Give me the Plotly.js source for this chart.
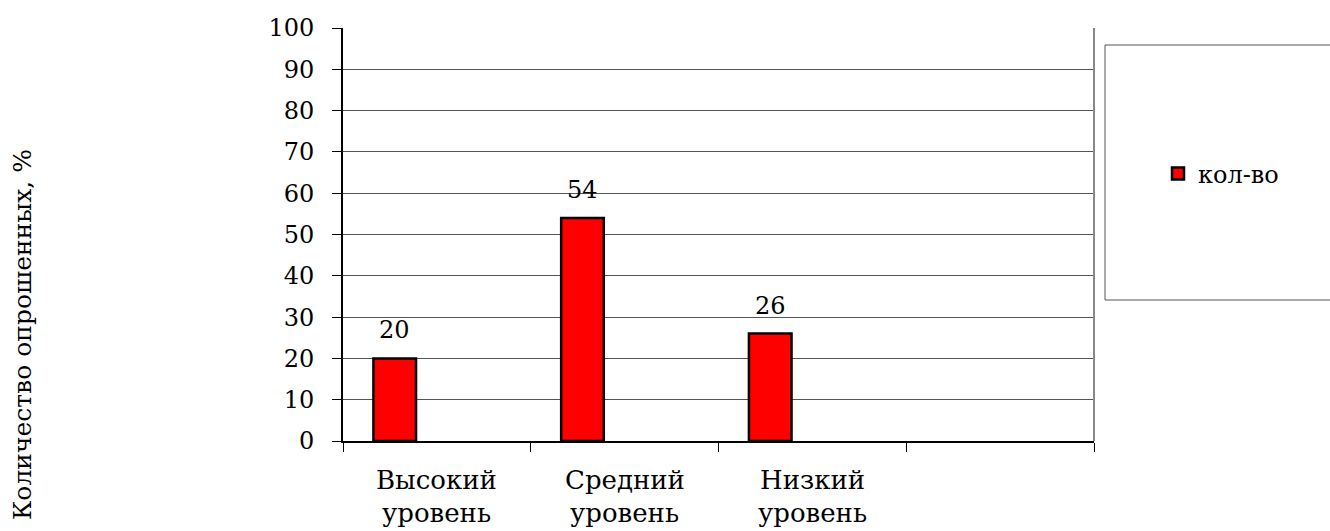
<!DOCTYPE html>
<html>
<head>
<meta charset="utf-8">
<script src="https://cdn.plot.ly/plotly-3.0.1.min.js"></script>
<style>
  html, body { margin: 0; padding: 0; background: #fff; }
  #chart { width: 1330px; height: 531px; }
</style>
</head>
<body>
<div id="chart"></div>
<script>
// Survey levels and share of respondents, %
const levelNames = ['Высокий', 'Средний', 'Низкий', ''];
const levelSuffix = ['уровень', 'уровень', 'уровень', ''];
const values = [20, 54, 26, null];
const seriesName = 'кол-во';
const yTickValues = [0, 10, 20, 30, 40, 50, 60, 70, 80, 90, 100];
const yTitle = 'Количество опрошенных, %';

const categories = levelNames.map((n, i) => (n + ' ' + levelSuffix[i]).trim() || ' ');

const FONT = 'DejaVu Serif';

// bar sits in the left part of each category slot
const barWidth = 0.227;
const barOffset = -0.338;

const trace = {
  type: 'bar',
  x: categories,
  y: values,
  name: seriesName,
  width: barWidth,
  offset: barOffset,
  marker: { color: '#ff0000', line: { color: '#000000', width: 2.5 } },
  showlegend: true,
  hoverinfo: 'x+y'
};

const annotations = [];

// value labels above each bar
values.forEach((v, i) => {
  if (v === null) return;
  annotations.push({
    x: i + barOffset + barWidth / 2,
    y: v,
    xref: 'x', yref: 'y',
    text: String(v),
    showarrow: false,
    yanchor: 'bottom',
    yshift: 12,
    font: { family: FONT, size: 24, color: '#000' }
  });
});

// two-line category captions under the axis (wider line spacing than tick labels allow)
categories.forEach((c, i) => {
  [levelNames[i], levelSuffix[i]].forEach((line, k) => {
    if (!line) return;
    annotations.push({
      x: c, y: 0,
      xref: 'x', yref: 'paper',
      text: line,
      showarrow: false,
      xanchor: 'center', yanchor: 'middle',
      yshift: k === 0 ? -39 : -72,
      font: { family: FONT, size: 26, color: '#000' }
    });
  });
});

// rotated axis caption at the far left
annotations.push({
  xref: 'paper', yref: 'paper',
  x: (22 - 343) / 751, y: (441 - 335) / 413,
  text: yTitle,
  textangle: -90,
  showarrow: false,
  xanchor: 'center', yanchor: 'middle',
  font: { family: FONT, size: 25, color: '#000' }
});

const layout = {
  width: 1330,
  height: 531,
  margin: { l: 343, r: 236, t: 28, b: 90 },
  paper_bgcolor: '#fff',
  plot_bgcolor: '#fff',
  font: { family: FONT, size: 24, color: '#000' },
  bargap: 0,
  showlegend: true,
  legend: {
    x: (1158 - 343) / 751,
    y: (441 - 174) / 413,
    xanchor: 'left',
    yanchor: 'middle',
    bgcolor: 'rgba(0,0,0,0)',
    borderwidth: 0,
    font: { family: FONT, size: 24, color: '#000' }
  },
  xaxis: {
    type: 'category',
    categoryorder: 'array',
    categoryarray: categories,
    range: [-0.5, 3.5],
    tickson: 'boundaries',
    ticks: 'outside',
    ticklen: 9,
    tickwidth: 1,
    tickcolor: '#000',
    showgrid: false,
    showline: true,
    linecolor: '#000',
    linewidth: 2,
    showticklabels: false,
    fixedrange: true
  },
  yaxis: {
    range: [0, 100],
    tickvals: yTickValues,
    ticktext: yTickValues.map(String),
    ticks: 'outside',
    ticklen: 9,
    tickwidth: 1,
    tickcolor: '#000',
    showgrid: true,
    gridcolor: '#555',
    gridwidth: 1,
    zeroline: false,
    showline: true,
    linecolor: '#000',
    linewidth: 2,
    ticklabelstandoff: 13,
    tickfont: { family: FONT, size: 24, color: '#000' },
    fixedrange: true
  },
  shapes: [
    // right frame edge of the plot area
    { type: 'line', xref: 'paper', yref: 'paper', x0: 1, x1: 1, y0: 0, y1: 1,
      line: { color: '#888', width: 2 } },
    // legend frame
    { type: 'rect', xref: 'paper', yref: 'paper',
      x0: (1105 - 343) / 751, x1: (1340 - 343) / 751,
      y0: (441 - 300) / 413, y1: (441 - 45) / 413,
      line: { color: '#555', width: 1 }, fillcolor: 'rgba(0,0,0,0)', layer: 'below' }
  ],
  annotations: annotations
};

Plotly.newPlot('chart', [trace], layout, { displayModeBar: false, staticPlot: true });
</script>
</body>
</html>
